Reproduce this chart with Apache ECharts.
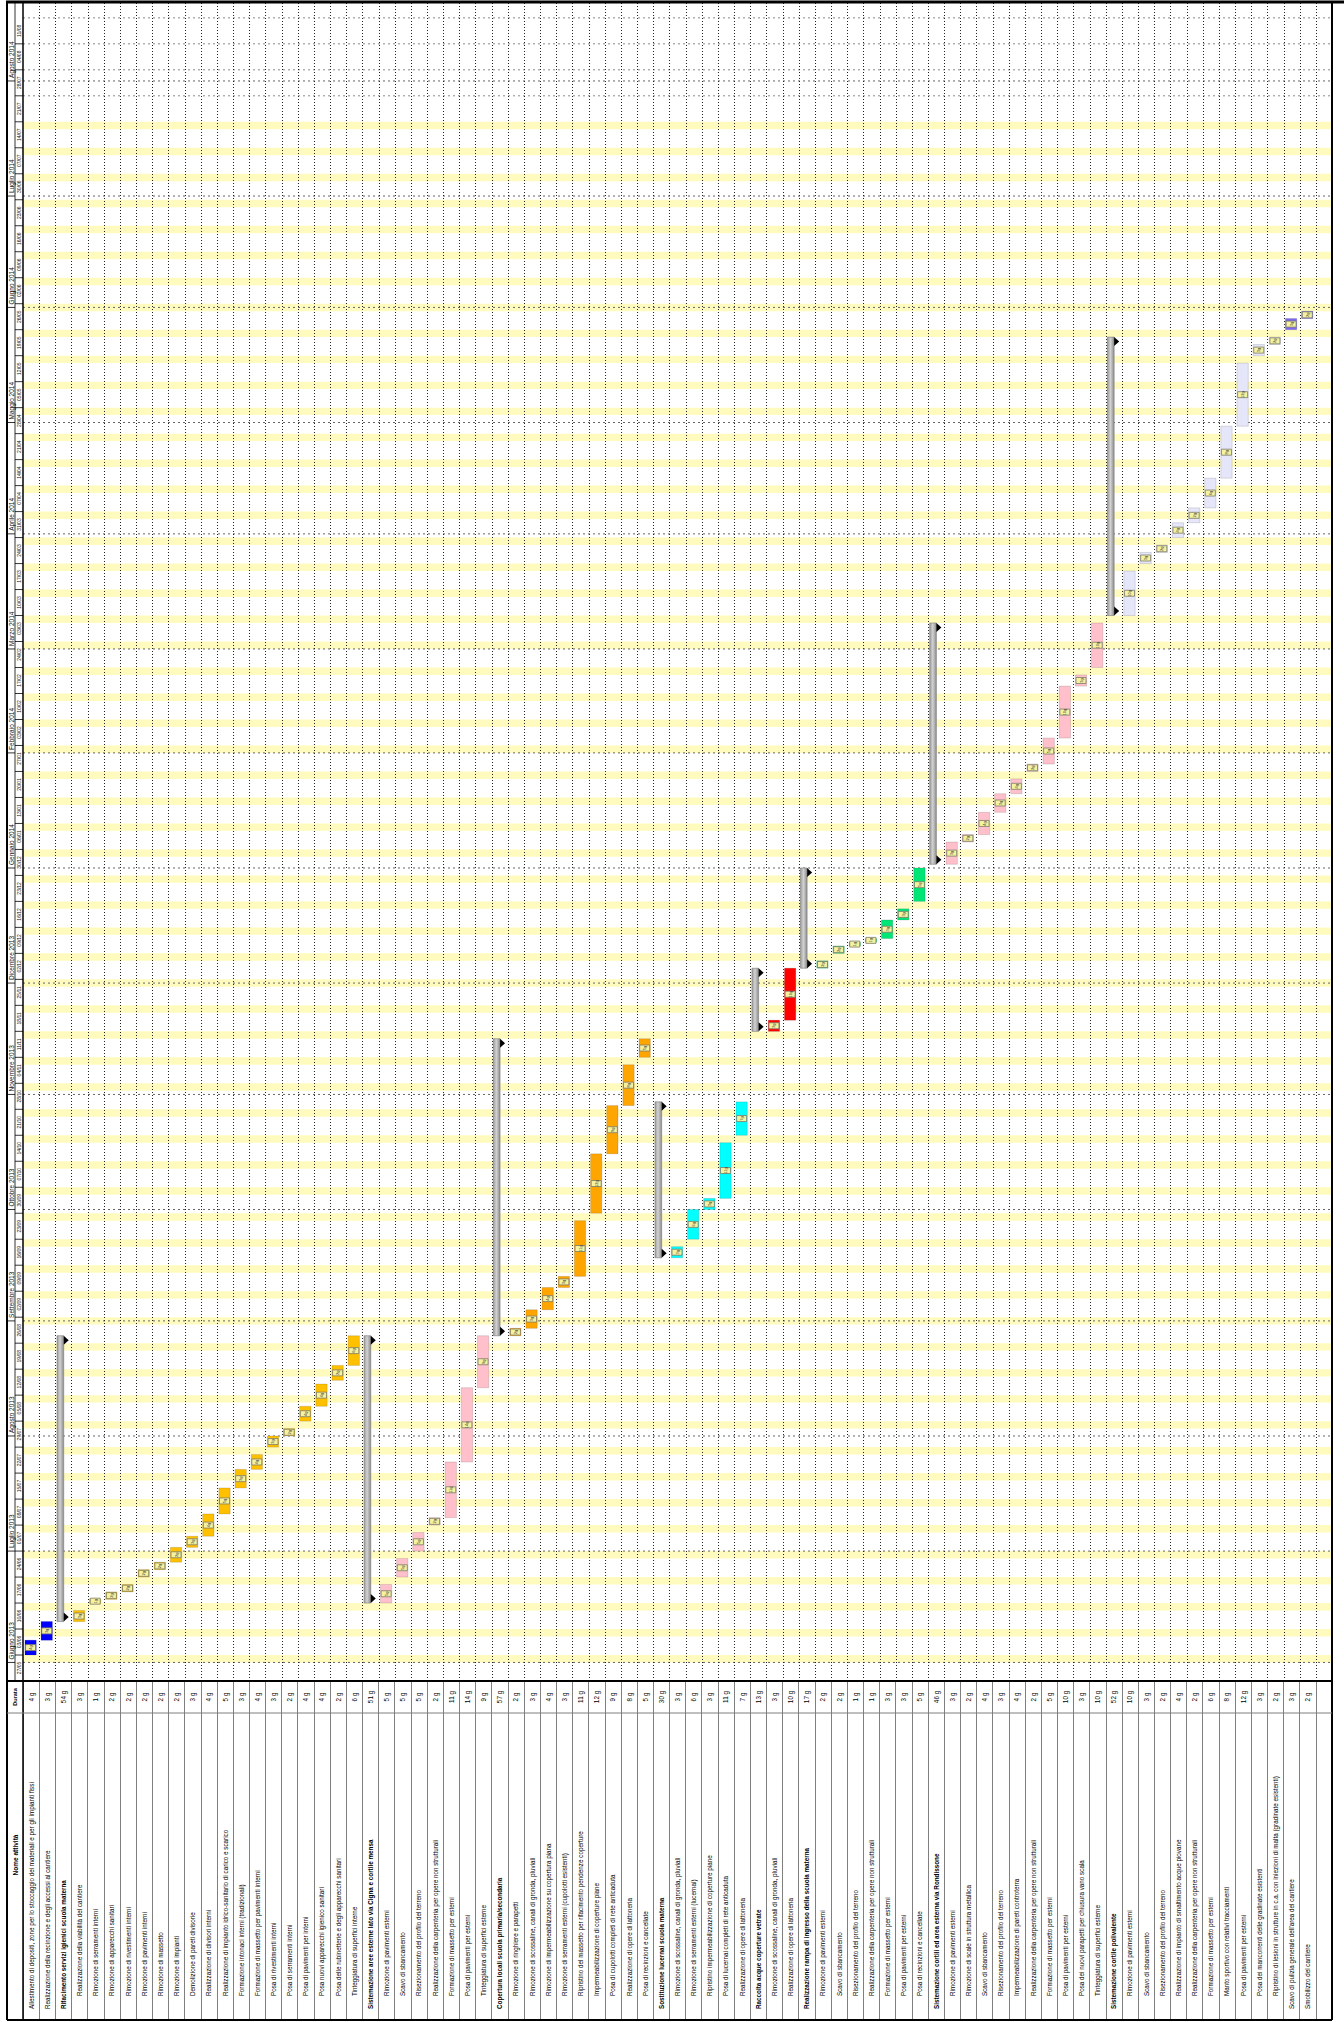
<!DOCTYPE html>
<html><head><meta charset="utf-8">
<script src="https://cdn.jsdelivr.net/npm/echarts@6/dist/echarts.min.js"></script>
<style>html,body{margin:0;padding:0;background:#fff}#c{width:1344px;height:2022px}</style>
</head><body><div id="c"></div>
<script>
const taskNames = [
'Allestimento di depositi, zone per lo stoccaggio dei materiali e per gli impianti fissi',
'Realizzazione della recinzione e degli accessi al cantiere',
'Rifacimento servizi igienici scuola materna',
'Realizzazione della viabilità del cantiere',
'Rimozione di serramenti interni',
'Rimozione di apparecchi sanitari',
'Rimozione di rivestimenti interni',
'Rimozione di pavimenti interni',
'Rimozione di massetto',
'Rimozione di impianti',
'Demolizione di pareti divisorie',
'Realizzazione di divisori interni',
'Realizzazione di impianto idrico-sanitario di carico e scarico',
'Formazione intonaci interni (tradizionali)',
'Formazione di massetto per pavimenti interni',
'Posa di rivestimenti interni',
'Posa di serramenti interni',
'Posa di pavimenti per interni',
'Posa nuovi apparecchi igienico sanitari',
'Posa delle rubinetterie e degli apparecchi sanitari',
'Tinteggiatura di superfici interne',
'Sistemazione aree esterne lato via Cigna e cortile mensa',
'Rimozione di pavimenti esterni',
'Scavo di sbancamento',
'Risezionamento del profilo del terreno',
'Realizzazione della carpenteria per opere non strutturali',
'Formazione di massetto per esterni',
'Posa di pavimenti per esterni',
'Tinteggiatura di superfici esterne',
'Copertura locali scuola primaria/secondaria',
'Rimozione di ringhiere e parapetti',
'Rimozione di scossaline, canali di gronda, pluviali',
'Rimozione di impermeabilizzazione su copertura piana',
'Rimozione di serramenti esterni (cupolotti esistenti)',
'Ripristino del massetto per rifacimento pendenze coperture',
'Impermeabilizzazione di coperture piane',
'Posa di cupolotti completi di rete anticaduta',
'Realizzazione di opere di lattoneria',
'Posa di recinzioni e cancellate',
'Sostituzione lucernai scuola materna',
'Rimozione di scossaline, canali di gronda, pluviali',
'Rimozione di serramenti esterni (lucernai)',
'Ripristino impermeabilizzazione di coperture piane',
'Posa di lucernai completi di rete anticaduta',
'Realizzazione di opere di lattoneria',
'Raccolta acque coperture vetrate',
'Rimozione di scossaline, canali di gronda, pluviali',
'Realizzazione di opere di lattoneria',
'Realizzazione rampa di ingresso della scuola materna',
'Rimozione di pavimenti esterni',
'Scavo di sbancamento',
'Risezionamento del profilo del terreno',
'Realizzazione della carpenteria per opere non strutturali',
'Formazione di massetto per esterni',
'Posa di pavimenti per esterni',
'Posa di recinzioni e cancellate',
'Sistemazione cortili ed area esterna via Rondissone',
'Rimozione di pavimenti esterni',
'Rimozione di scale in struttura metallica',
'Scavo di sbancamento',
'Risezionamento del profilo del terreno',
'Impermeabilizzazione di pareti controterra',
'Realizzazione della carpenteria per opere non strutturali',
'Formazione di massetto per esterni',
'Posa di pavimenti per esterni',
'Posa dei nuovi parapetti per chiusura vano scala',
'Tinteggiatura di superfici esterne',
'Sistemazione cortile polivalente',
'Rimozione di pavimenti esterni',
'Scavo di sbancamento',
'Risezionamento del profilo del terreno',
'Realizzazione di impianto di smaltimento acque piovane',
'Realizzazione della carpenteria per opere non strutturali',
'Formazione di massetto per esterni',
'Manto sportivo con relativi tracciamenti',
'Posa di pavimenti per esterni',
'Posa dei mancorrenti delle gradinate esistenti',
'Ripristino di lesioni in strutture in c.a. con iniezioni di malta (gradinate esistenti)',
"Scavo di pulizia generale dell'area del cantiere",
'Smobilizzo del cantiere',
''
];
const durations = ['4 g','3 g','54 g','3 g','1 g','2 g','2 g','2 g','2 g','2 g','3 g','4 g','5 g','3 g','4 g','3 g','2 g','4 g','4 g','2 g','6 g',
'51 g','5 g','5 g','5 g','2 g','11 g','14 g','9 g',
'57 g','2 g','3 g','4 g','3 g','11 g','12 g','9 g','8 g','5 g',
'30 g','3 g','6 g','3 g','11 g','7 g',
'13 g','3 g','10 g',
'17 g','2 g','2 g','1 g','1 g','3 g','3 g','5 g',
'46 g','3 g','2 g','4 g','3 g','4 g','2 g','5 g','10 g','3 g','10 g',
'52 g','10 g','3 g','2 g','4 g','2 g','6 g','8 g','12 g','3 g','2 g',
'3 g','2 g',''];
const summaryTasks = [2, 21, 29, 39, 45, 48, 56, 67];
const topLevelTasks = [0, 1, 2, 21, 29, 39, 45, 48, 56, 67, 78, 79];
const startDates = ['2013-06-03','2013-06-07','2013-06-12','2013-06-12','2013-06-17','2013-06-18','2013-06-20','2013-06-24','2013-06-26','2013-06-28',
'2013-07-02','2013-07-05','2013-07-11','2013-07-18','2013-07-23','2013-07-29','2013-08-01','2013-08-05','2013-08-09','2013-08-16',
'2013-08-20','2013-06-17','2013-06-17','2013-06-24','2013-07-01','2013-07-08','2013-07-10','2013-07-25','2013-08-14','2013-08-28',
'2013-08-28','2013-08-30','2013-09-04','2013-09-10','2013-09-13','2013-09-30','2013-10-16','2013-10-29','2013-11-11','2013-09-18',
'2013-09-18','2013-09-23','2013-10-01','2013-10-04','2013-10-21','2013-11-18','2013-11-18','2013-11-21','2013-12-05','2013-12-05',
'2013-12-09','2013-12-11','2013-12-12','2013-12-13','2013-12-18','2013-12-23','2014-01-02','2014-01-02','2014-01-08','2014-01-10',
'2014-01-16','2014-01-21','2014-01-27','2014-01-29','2014-02-05','2014-02-19','2014-02-24','2014-03-10','2014-03-10','2014-03-24',
'2014-03-27','2014-03-31','2014-04-04','2014-04-08','2014-04-16','2014-04-30','2014-05-19','2014-05-22','2014-05-26','2014-05-29'];
const finishDates = ['2013-06-06','2013-06-11','2013-08-27','2013-06-14','2013-06-17','2013-06-19','2013-06-21','2013-06-25','2013-06-27','2013-07-01',
'2013-07-04','2013-07-10','2013-07-17','2013-07-22','2013-07-26','2013-07-31','2013-08-02','2013-08-08','2013-08-14','2013-08-19',
'2013-08-27','2013-08-27','2013-06-21','2013-06-28','2013-07-05','2013-07-09','2013-07-24','2013-08-13','2013-08-27','2013-11-15',
'2013-08-29','2013-09-03','2013-09-09','2013-09-12','2013-09-27','2013-10-15','2013-10-28','2013-11-08','2013-11-15','2013-10-29',
'2013-09-20','2013-09-30','2013-10-03','2013-10-18','2013-10-29','2013-12-04','2013-11-20','2013-12-04','2013-12-31','2013-12-06',
'2013-12-10','2013-12-11','2013-12-12','2013-12-17','2013-12-20','2013-12-31','2014-03-07','2014-01-07','2014-01-09','2014-01-15',
'2014-01-20','2014-01-24','2014-01-28','2014-02-04','2014-02-18','2014-02-21','2014-03-07','2014-05-23','2014-03-21','2014-03-26',
'2014-03-28','2014-04-03','2014-04-07','2014-04-15','2014-04-29','2014-05-16','2014-05-21','2014-05-23','2014-05-28','2014-05-30'];
const barGroups = ['blue','blue','sum','gold','gold','gold','gold','gold','gold','gold','gold','gold','gold','gold','gold','gold','gold','gold','gold','gold','gold',
'sum','pink','pink','pink','pink','pink','pink','pink',
'sum','orange','orange','orange','orange','orange','orange','orange','orange','orange',
'sum','cyan','cyan','cyan','cyan','cyan',
'sum','red','red',
'sum','green','green','green','green','green','green','green',
'sum','pink','pink','pink','pink','pink','pink','pink','pink','pink','pink',
'sum','lavender','lavender','lavender','lavender','lavender','lavender','lavender','lavender','lavender','lavender',
'slate','slate'];
const groupColors = {blue:'#0000FF', gold:'#FFC000', pink:'#FFC0CB', orange:'#FFA500', cyan:'#00FFFF', red:'#FF0000', green:'#00E676', lavender:'#E6E6FA', slate:'#7B68EE'};
const monthLabels = ['Giugno 2013','Luglio 2013','Agosto 2013','Settembre 2013','Ottobre 2013','Novembre 2013','Dicembre 2013','Gennaio 2014','Febbraio 2014','Marzo 2014','Aprile 2014','Maggio 2014','Giugno 2014','Luglio 2014','Agosto 2014'];
const monthStarts = ['2013-06-01','2013-07-01','2013-08-01','2013-09-01','2013-10-01','2013-11-01','2013-12-01','2014-01-01','2014-02-01','2014-03-01','2014-04-01','2014-05-01','2014-06-01','2014-07-01','2014-08-01'];
const weekLabels = ['27/05','03/06','10/06','17/06','24/06','01/07','08/07','15/07','22/07','29/07','05/08','12/08','19/08','26/08','02/09','09/09','16/09','23/09','30/09','07/10','14/10','21/10','28/10','04/11','11/11','18/11','25/11','02/12','09/12','16/12','23/12','30/12',
'06/01','13/01','20/01','27/01','03/02','10/02','17/02','24/02','03/03','10/03','17/03','24/03','31/03','07/04','14/04','21/04','28/04','05/05','12/05','19/05','26/05','02/06','09/06','16/06','23/06','30/06','07/07','14/07','21/07','28/07','04/08','11/08'];
const timelineStart = '2013-05-27';
const shadingEnd = '2014-07-21';

const FONT = '"Liberation Sans", Arial, sans-serif';
const T0 = Date.UTC(2013, 4, 27);
function dayOf(s) { const p = s.split('-').map(Number); return (Date.UTC(p[0], p[1] - 1, p[2]) - T0) / 864e5; }
const AXIS_MAX = 452;

const barData = [], sumData = [];
for (let i = 0; i < startDates.length; i++) {
  const item = [i, dayOf(startDates[i]), dayOf(finishDates[i]) + 1];
  if (summaryTasks.indexOf(i) >= 0) sumData.push(item); else barData.push(item);
}

function renderBar(params, api) {
  const c = api.value(0), s = api.value(1), e = api.value(2);
  const top = api.coord([c, e]), bot = api.coord([c, s]);
  const bw = api.size([1, 0])[0];
  const w = bw * 0.7;
  const cx = top[0] - 0.5;
  const cy = (top[1] + bot[1]) / 2;
  const color = groupColors[barGroups[c]];
  return {type: 'group', children: [
    {type: 'rect', shape: {x: cx - w / 2, y: top[1], width: w, height: bot[1] - top[1]},
     style: {fill: color, stroke: 'rgba(0,0,0,0.25)', lineWidth: 0.5}},
    {type: 'rect', shape: {x: cx - 5, y: cy - 3, width: 10, height: 6},
     style: {fill: '#F6F3A0', stroke: '#7a7a6a', lineWidth: 0.8}},
    {type: 'text', x: cx, y: cy, rotation: Math.PI / 2,
     style: {text: durations[c].replace(' ', ''), fontSize: 4, fontFamily: FONT, fill: '#333', align: 'center', verticalAlign: 'middle'}}
  ]};
}
function renderSummary(params, api) {
  const c = api.value(0), s = api.value(1), e = api.value(2);
  const top = api.coord([c, e]), bot = api.coord([c, s]);
  const bw = api.size([1, 0])[0];
  const left = top[0] - bw / 2;
  const x0 = left + 1.7, w = 6.7, xr = x0 + w;
  return {type: 'group', children: [
    {type: 'rect', shape: {x: x0, y: top[1], width: w, height: bot[1] - top[1]},
     style: {fill: new echarts.graphic.LinearGradient(0, 0, 1, 0, [{offset: 0, color: '#9a9a9a'}, {offset: 0.45, color: '#d2d2d2'}, {offset: 1, color: '#8c8c8c'}]), stroke: '#7a7a7a', lineWidth: 0.6}},
    {type: 'polygon', shape: {points: [[xr, top[1]], [xr, top[1] + 9], [xr + 5, top[1] + 4.5]]}, style: {fill: '#000'}},
    {type: 'polygon', shape: {points: [[xr, bot[1]], [xr, bot[1] - 9], [xr + 5, bot[1] - 4.5]]}, style: {fill: '#000'}}
  ]};
}
function renderCalendar(params, api) {
  const cs = params.coordSys;
  const ch = [];
  const yOf = d => api.coord([0, d])[1];
  const endShade = dayOf(shadingEnd);
  for (let w = 0; w * 7 < AXIS_MAX; w++) {
    const sat = w * 7 + 5;
    if (sat < endShade) {
      const y1 = Math.max(yOf(sat + 2), cs.y), y2 = yOf(sat);
      ch.push({type: 'rect', shape: {x: cs.x, y: y1, width: cs.width, height: y2 - y1}, style: {fill: '#FFFBBE'}});
    } else if (w * 7 > endShade) {
      const y = yOf(w * 7);
      ch.push({type: 'line', shape: {x1: cs.x, y1: y, x2: cs.x + cs.width, y2: y}, style: {stroke: '#8a8a8a', lineWidth: 1, lineDash: [2, 3]}});
    }
  }
  for (const m of monthStarts) {
    const y = yOf(dayOf(m));
    ch.push({type: 'line', shape: {x1: cs.x, y1: y, x2: cs.x + cs.width, y2: y}, style: {stroke: '#666', lineWidth: 1, lineDash: [2, 3]}});
  }
  const bw = api.size([1, 0])[0];
  for (let k = 1; k < taskNames.length; k++) {
    const x = Math.round(api.coord([k, 0])[0] - bw / 2) + 0.5;
    ch.push({type: 'line', shape: {x1: x, y1: cs.y, x2: x, y2: cs.y + cs.height}, style: {stroke: '#222', lineWidth: 1, lineDash: [1, 2]}});
  }
  return {type: 'group', children: ch};
}
function renderWeek(params, api) {
  const cs = params.coordSys;
  const d0 = api.value(1);
  const yBot = api.coord([0, d0])[1], yTop = api.coord([0, d0 + 7])[1];
  return {type: 'group', children: [
    {type: 'line', shape: {x1: cs.x - 8, y1: yBot, x2: cs.x, y2: yBot}, style: {stroke: '#000', lineWidth: 0.8}},
    {type: 'text', x: cs.x - 4, y: (yTop + yBot) / 2, rotation: Math.PI / 2,
     style: {text: weekLabels[params.dataIndex], fontSize: 5, fontFamily: FONT, fill: '#111', align: 'center', verticalAlign: 'middle'}}
  ]};
}
function renderMonth(params, api) {
  const cs = params.coordSys;
  const y = api.coord([0, api.value(1)])[1];
  return {type: 'group', children: [
    {type: 'line', shape: {x1: cs.x - 16, y1: y, x2: cs.x - 8, y2: y}, style: {stroke: '#000', lineWidth: 0.8}},
    {type: 'text', x: cs.x - 12, y: y - 3, rotation: Math.PI / 2,
     style: {text: monthLabels[params.dataIndex], fontSize: 6.5, fontFamily: FONT, fill: '#111', align: 'left', verticalAlign: 'middle'}}
  ]};
}

const chart = echarts.init(document.getElementById('c'), null, {renderer: 'svg', width: 1344, height: 2022});
const baseLabel = {interval: 0, rotate: 90, fontFamily: FONT, fontSize: 6.3, color: '#000', verticalAlign: 'middle'};
chart.setOption({
  animation: false,
  backgroundColor: '#fff',
  grid: {left: 23, right: 12, top: 3, bottom: 341},
  xAxis: [
    {type: 'category', data: taskNames, position: 'bottom', boundaryGap: true,
     axisLine: {show: false}, splitLine: {show: false},
     axisTick: {show: true, interval: 0, length: 339, lineStyle: {color: '#7f7f7f', width: 1}},
     axisLabel: Object.assign({}, baseLabel, {align: 'left', margin: 328,
       formatter: (v, i) => topLevelTasks.indexOf(i) >= 0 ? (summaryTasks.indexOf(i) >= 0 ? '{b|' + v + '}' : v) : '',
       rich: {b: {fontWeight: 'bold', fontSize: 6.3, fontFamily: FONT}}})},
    {type: 'category', data: taskNames, position: 'bottom', boundaryGap: true,
     axisLine: {show: false}, axisTick: {show: false}, splitLine: {show: false},
     axisLabel: Object.assign({}, baseLabel, {align: 'left', margin: 315,
       formatter: (v, i) => topLevelTasks.indexOf(i) >= 0 ? '' : v})},
    {type: 'category', data: taskNames, position: 'bottom', boundaryGap: true,
     axisLine: {show: false}, axisTick: {show: false}, splitLine: {show: false},
     axisLabel: Object.assign({}, baseLabel, {align: 'center', margin: 16,
       formatter: (v, i) => durations[i]})}
  ],
  yAxis: {type: 'value', min: 0, max: AXIS_MAX, show: false},
  series: [
    {type: 'custom', name: 'calendario', renderItem: renderCalendar, data: [[0, 0]], encode: {x: 0, y: 1}, z: 1, silent: true, clip: false},
    {type: 'custom', name: 'settimane', renderItem: renderWeek, data: weekLabels.map((w, i) => [0, i * 7]), encode: {x: 0, y: 1}, z: 2, silent: true, clip: false},
    {type: 'custom', name: 'mesi', renderItem: renderMonth, data: monthStarts.map(m => [0, dayOf(m)]), encode: {x: 0, y: 1}, z: 2, silent: true, clip: false},
    {type: 'custom', name: 'riepilogo', renderItem: renderSummary, data: sumData, encode: {x: 0, y: [1, 2]}, z: 4, clip: false},
    {type: 'custom', name: 'attività', renderItem: renderBar, data: barData, encode: {x: 0, y: [1, 2]}, z: 5, clip: false}
  ],
  graphic: [
    {type: 'line', shape: {x1: 6, y1: 2, x2: 1344, y2: 2}, style: {stroke: '#000', lineWidth: 3}, z: 100},
    {type: 'line', shape: {x1: 7, y1: 2, x2: 7, y2: 2020}, style: {stroke: '#000', lineWidth: 2}, z: 100},
    {type: 'line', shape: {x1: 15, y1: 2, x2: 15, y2: 1681}, style: {stroke: '#000', lineWidth: 0.8}, z: 100},
    {type: 'line', shape: {x1: 23, y1: 2, x2: 23, y2: 2020}, style: {stroke: '#000', lineWidth: 1.5}, z: 100},
    {type: 'line', shape: {x1: 1332, y1: 2, x2: 1332, y2: 2020}, style: {stroke: '#000', lineWidth: 2}, z: 100},
    {type: 'line', shape: {x1: 7, y1: 1681, x2: 1332, y2: 1681}, style: {stroke: '#000', lineWidth: 2}, z: 100},
    {type: 'line', shape: {x1: 7, y1: 1713, x2: 1332, y2: 1713}, style: {stroke: '#7f7f7f', lineWidth: 1}, z: 100},
    {type: 'line', shape: {x1: 7, y1: 2020, x2: 1332, y2: 2020}, style: {stroke: '#000', lineWidth: 2}, z: 100},
    {type: 'text', x: 15, y: 1697, rotation: Math.PI / 2, style: {text: 'Durata', fontSize: 5.5, fontWeight: 'bold', fontFamily: FONT, fill: '#000', align: 'center', verticalAlign: 'middle'}, z: 100},
    {type: 'text', x: 15, y: 1855, rotation: Math.PI / 2, style: {text: 'Nome attività', fontSize: 6.5, fontWeight: 'bold', fontFamily: FONT, fill: '#000', align: 'center', verticalAlign: 'middle'}, z: 100}
  ]
});
</script></body></html>
